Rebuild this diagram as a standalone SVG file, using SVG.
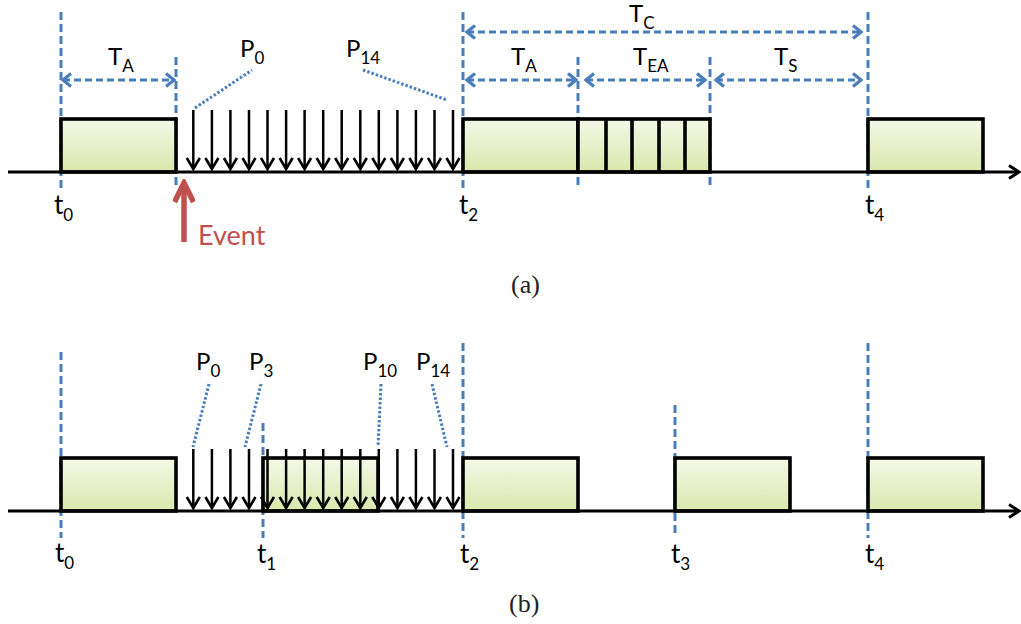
<svg xmlns="http://www.w3.org/2000/svg" width="1021" height="624" viewBox="0 0 1021 624">
<defs>
<linearGradient id="g" x1="0" y1="0" x2="0" y2="1">
<stop offset="0" stop-color="#f5f9e8"/>
<stop offset="1" stop-color="#d9e7ac"/>
</linearGradient>
<marker id="bh" viewBox="0 0 12 16" refX="10" refY="8" markerWidth="12" markerHeight="16" markerUnits="userSpaceOnUse" orient="auto-start-reverse">
<polyline points="2,1.5 10,8 2,14.5" fill="none" stroke="#4a7ebb" stroke-width="3.2"/>
</marker>
<marker id="kh" viewBox="0 0 14 16" refX="12" refY="8" markerWidth="14" markerHeight="16" markerUnits="userSpaceOnUse" orient="auto">
<polyline points="1,1.5 12,8 1,14.5" fill="none" stroke="#000" stroke-width="2.6"/>
</marker>
<marker id="ax" viewBox="0 0 14 16" refX="12" refY="8" markerWidth="14" markerHeight="16" markerUnits="userSpaceOnUse" orient="auto">
<polyline points="2,1.5 12,8 2,14.5" fill="none" stroke="#000" stroke-width="3"/>
</marker>
<marker id="rh" viewBox="0 0 26 22" refX="23" refY="11" markerWidth="26" markerHeight="22" markerUnits="userSpaceOnUse" orient="auto">
<polyline points="3,1.5 22,11 3,20.5" fill="none" stroke="#c0504d" stroke-width="5.5"/>
</marker>
</defs>
<style>
.blk{fill:url(#g);stroke:#000;stroke-width:3.6}
.axis{stroke:#000;stroke-width:3.2;fill:none}
.vd{stroke:#4a7ebb;stroke-width:3;stroke-dasharray:8,4;fill:none}
.dim{stroke:#4a7ebb;stroke-width:3.2;stroke-dasharray:7,4;fill:none;marker-start:url(#bh);marker-end:url(#bh)}
.dot{stroke:#4a7ebb;stroke-width:3;stroke-dasharray:2.5,2;fill:none}
.pa{stroke:#000;stroke-width:2.5;fill:none;marker-end:url(#kh)}
.lbl{font-family:Lato,"Liberation Sans",sans-serif;font-size:24px;fill:#000}
.tl{font-family:Lato,"Liberation Sans",sans-serif;font-size:26px;fill:#000}
.sub{font-size:17px}
.cap{font-family:"Liberation Serif","DejaVu Serif",serif;font-size:26px;fill:#222}
</style>

<!-- Panel (a) -->
<g id="a-guides">
<line class="vd" x1="61" y1="12" x2="61" y2="190"/>
<line class="vd" x1="176" y1="57" x2="176" y2="189"/>
<line class="vd" x1="463" y1="12" x2="463" y2="190"/>
<line class="vd" x1="578" y1="57" x2="578" y2="189"/>
<line class="vd" x1="710" y1="57" x2="710" y2="189"/>
<line class="vd" x1="868" y1="12" x2="868" y2="190"/>
</g>
<g id="a-block0"><rect class="blk" x="61" y="119" width="115" height="53"/></g>
<g id="a-block2">
<rect class="blk" x="463" y="119" width="115" height="53"/>
<rect class="blk" x="578" y="119" width="132" height="53"/>
<line stroke="#000" stroke-width="3.6" x1="606" y1="119" x2="606" y2="172"/>
<line stroke="#000" stroke-width="3.6" x1="632" y1="119" x2="632" y2="172"/>
<line stroke="#000" stroke-width="3.6" x1="659" y1="119" x2="659" y2="172"/>
<line stroke="#000" stroke-width="3.6" x1="685" y1="119" x2="685" y2="172"/>
</g>
<g id="a-block4"><rect class="blk" x="868" y="119" width="115" height="53"/></g>
<g id="a-axis"><line class="axis" x1="8" y1="172" x2="1019" y2="172" marker-end="url(#ax)"/></g>
<g id="a-connectors">
<line class="dim" x1="63" y1="80" x2="174" y2="80"/>
<line class="dim" x1="467" y1="32" x2="861" y2="32"/>
<line class="dim" x1="467" y1="80" x2="576" y2="80"/>
<line class="dim" x1="586" y1="80" x2="705" y2="80"/>
<line class="dim" x1="716" y1="80" x2="861" y2="80"/>
<line class="dot" x1="195" y1="108" x2="252" y2="70"/>
<line class="dot" x1="363" y1="70" x2="447" y2="100"/>
<line stroke="#c0504d" stroke-width="5.5" fill="none" x1="184" y1="242" x2="184" y2="182" marker-end="url(#rh)"/>
</g>
<g id="a-packets">
<line class="pa" x1="193.3" y1="110" x2="193.3" y2="169"/>
<line class="pa" x1="211.9" y1="110" x2="211.9" y2="169"/>
<line class="pa" x1="230.4" y1="110" x2="230.4" y2="169"/>
<line class="pa" x1="249.0" y1="110" x2="249.0" y2="169"/>
<line class="pa" x1="267.5" y1="110" x2="267.5" y2="169"/>
<line class="pa" x1="286.1" y1="110" x2="286.1" y2="169"/>
<line class="pa" x1="304.6" y1="110" x2="304.6" y2="169"/>
<line class="pa" x1="323.2" y1="110" x2="323.2" y2="169"/>
<line class="pa" x1="341.7" y1="110" x2="341.7" y2="169"/>
<line class="pa" x1="360.3" y1="110" x2="360.3" y2="169"/>
<line class="pa" x1="378.8" y1="110" x2="378.8" y2="169"/>
<line class="pa" x1="397.4" y1="110" x2="397.4" y2="169"/>
<line class="pa" x1="415.9" y1="110" x2="415.9" y2="169"/>
<line class="pa" x1="434.5" y1="110" x2="434.5" y2="169"/>
<line class="pa" x1="453.0" y1="110" x2="453.0" y2="169"/>
</g>
<g id="a-labels">
<text class="lbl" x="108" y="65">T<tspan class="sub" dy="7">A</tspan></text>
<text class="lbl" x="629" y="22">T<tspan class="sub" dy="7">C</tspan></text>
<text class="lbl" x="511" y="65">T<tspan class="sub" dy="7">A</tspan></text>
<text class="lbl" x="633" y="65">T<tspan class="sub" dy="7">EA</tspan></text>
<text class="lbl" x="774" y="65">T<tspan class="sub" dy="7">S</tspan></text>
<text class="lbl" x="240" y="57">P<tspan class="sub" dy="7">0</tspan></text>
<text class="lbl" x="346" y="57">P<tspan class="sub" dy="7">14</tspan></text>
<text class="tl" x="54" y="214">t<tspan class="sub" dy="7">0</tspan></text>
<text class="tl" x="459" y="214">t<tspan class="sub" dy="7">2</tspan></text>
<text class="tl" x="865" y="214">t<tspan class="sub" dy="7">4</tspan></text>
<text x="198" y="245" font-family="Lato,'Liberation Sans',sans-serif" font-size="27" fill="#c0504d">Event</text>
<text class="cap" x="511" y="293">(a)</text>
</g>

<!-- Panel (b) -->
<g id="b-guides">
<line class="vd" x1="61" y1="352" x2="61" y2="538"/>
<line class="vd" x1="263" y1="423" x2="263" y2="538"/>
<line class="vd" x1="463" y1="343" x2="463" y2="538"/>
<line class="vd" x1="675" y1="405" x2="675" y2="537"/>
<line class="vd" x1="868" y1="343" x2="868" y2="538"/>
</g>
<g id="b-block0"><rect class="blk" x="61" y="458" width="115" height="53"/></g>
<g id="b-block1"><rect class="blk" x="263" y="458" width="115" height="53"/></g>
<g id="b-block2"><rect class="blk" x="463" y="458" width="115" height="53"/></g>
<g id="b-block3"><rect class="blk" x="675" y="458" width="115" height="53"/></g>
<g id="b-block4"><rect class="blk" x="868" y="458" width="115" height="53"/></g>
<g id="b-axis"><line class="axis" x1="8" y1="511" x2="1019" y2="511" marker-end="url(#ax)"/></g>
<g id="b-connectors">
<line class="dot" x1="209" y1="384" x2="193" y2="447"/>
<line class="dot" x1="261" y1="384" x2="245" y2="447"/>
<line class="dot" x1="381" y1="384" x2="378" y2="447"/>
<line class="dot" x1="432" y1="384" x2="447" y2="447"/>
</g>
<g id="b-packets">
<line class="pa" x1="193.3" y1="449" x2="193.3" y2="508"/>
<line class="pa" x1="211.9" y1="449" x2="211.9" y2="508"/>
<line class="pa" x1="230.4" y1="449" x2="230.4" y2="508"/>
<line class="pa" x1="249.0" y1="449" x2="249.0" y2="508"/>
<line class="pa" x1="267.5" y1="449" x2="267.5" y2="508"/>
<line class="pa" x1="286.1" y1="449" x2="286.1" y2="508"/>
<line class="pa" x1="304.6" y1="449" x2="304.6" y2="508"/>
<line class="pa" x1="323.2" y1="449" x2="323.2" y2="508"/>
<line class="pa" x1="341.7" y1="449" x2="341.7" y2="508"/>
<line class="pa" x1="360.3" y1="449" x2="360.3" y2="508"/>
<line class="pa" x1="378.8" y1="449" x2="378.8" y2="508"/>
<line class="pa" x1="397.4" y1="449" x2="397.4" y2="508"/>
<line class="pa" x1="415.9" y1="449" x2="415.9" y2="508"/>
<line class="pa" x1="434.5" y1="449" x2="434.5" y2="508"/>
<line class="pa" x1="453.0" y1="449" x2="453.0" y2="508"/>
</g>
<g id="b-labels">
<text class="lbl" x="196" y="370">P<tspan class="sub" dy="7">0</tspan></text>
<text class="lbl" x="249" y="370">P<tspan class="sub" dy="7">3</tspan></text>
<text class="lbl" x="363" y="370">P<tspan class="sub" dy="7">10</tspan></text>
<text class="lbl" x="416" y="370">P<tspan class="sub" dy="7">14</tspan></text>
<text class="tl" x="55" y="562">t<tspan class="sub" dy="7">0</tspan></text>
<text class="tl" x="257" y="563">t<tspan class="sub" dy="7">1</tspan></text>
<text class="tl" x="460" y="563">t<tspan class="sub" dy="7">2</tspan></text>
<text class="tl" x="671" y="563">t<tspan class="sub" dy="7">3</tspan></text>
<text class="tl" x="865" y="563">t<tspan class="sub" dy="7">4</tspan></text>
<text class="cap" x="509" y="612">(b)</text>
</g>
</svg>
